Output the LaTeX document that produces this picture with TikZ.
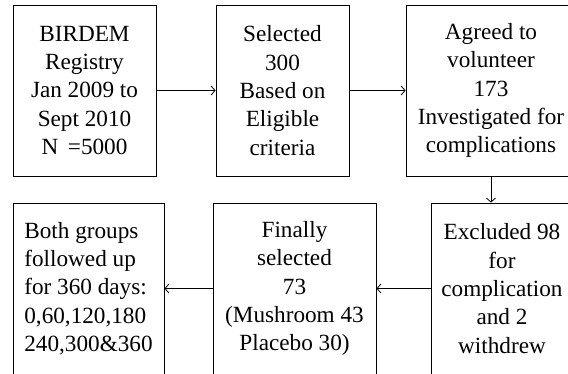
\documentclass[tikz,border=0pt]{standalone}
\usepackage{fontspec}
\setmainfont{Liberation Serif}
\usetikzlibrary{arrows.meta}
\tikzset{
  flowbox/.style={draw, line width=0.8pt, align=center, inner sep=0pt,
    minimum height=171pt, font=\fontsize{23.2}{28.3}\selectfont},
}
\begin{document}
\begin{tikzpicture}[x=1pt, y=-1pt, >={Straight Barb[length=4pt,width=9pt]}, line width=0.8pt]
    \useasboundingbox (0,0) rectangle (568,373);
    \node[flowbox, minimum width=143pt] (registry) at (84.5,90.5) {BIRDEM\\Registry\\Jan 2009 to\\Sept 2010\\N \,=5000};
    \node[flowbox, minimum width=133pt] (selected) at (282.5,90.5) {Selected\\300\\Based on\\Eligible\\criteria};
    \node[flowbox, minimum width=170pt] (agreed) at (491,90.5) {Agreed to\\volunteer\\173\\Investigated for\\complications};
    \node[flowbox, minimum width=142pt] (excluded) at (502,288.5) {Excluded 98\\for\\complication\\and 2\\withdrew};
    \node[flowbox, minimum width=163pt] (final) at (294.5,288.5) {Finally\\selected\\73\\(Mushroom 43\\Placebo 30)};
    \node[flowbox, minimum width=151pt, align=left] (followup) at (88.5,288.5) {Both groups\\followed up\\for 360 days:\\0,60,120,180\\240,300\&360};
    \draw[->] (registry) -- (selected);
    \draw[->] (selected) -- (agreed);
    \draw[->] (agreed.south) -- (agreed.south |- excluded.north);
    \draw[->] (excluded) -- (final);
    \draw[->] (final) -- (followup);
\end{tikzpicture}
\end{document}
